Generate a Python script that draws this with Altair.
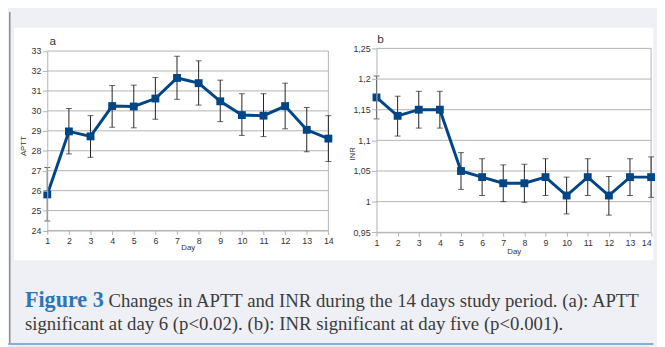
import altair as alt
import pandas as pd

# ---------------- data ----------------
days = [1, 2, 3, 4, 5, 6, 7, 8, 9, 10, 11, 12, 13, 14]

aptt = [25.81, 28.97, 28.72, 30.24, 30.22, 30.62, 31.65, 31.39, 30.48, 29.79, 29.76, 30.24, 29.05, 28.61]
aptt_hi = [27.16, 30.12, 29.76, 31.27, 31.29, 31.67, 32.74, 32.51, 31.54, 30.86, 30.86, 31.39, 30.17, 29.76]
aptt_lo = [24.48, 27.84, 27.67, 29.18, 29.15, 29.58, 30.58, 30.29, 29.46, 28.77, 28.71, 29.10, 27.95, 27.46]

inr = [1.17, 1.14, 1.15, 1.15, 1.05, 1.04, 1.03, 1.03, 1.04, 1.01, 1.04, 1.01, 1.04, 1.04]
inr_hi = [1.205, 1.172, 1.18, 1.18, 1.08, 1.07, 1.06, 1.061, 1.07, 1.04, 1.07, 1.041, 1.07, 1.073]
inr_lo = [1.135, 1.107, 1.12, 1.12, 1.02, 1.01, 1.00, 0.999, 1.01, 0.98, 1.01, 0.978, 1.01, 1.007]

aptt_ticks = [24, 25, 26, 27, 28, 29, 30, 31, 32, 33]
inr_ticks = [0.95, 1.0, 1.05, 1.1, 1.15, 1.2, 1.25]

caption_bold = "Figure 3"
caption_line1 = "Changes in APTT and INR during the 14 days study period. (a): APTT"
caption_line2 = "significant at day 6 (p<0.02). (b): INR significant at day five (p<0.001)."

# ---------------- styling / layout ----------------
BLUE = "#004586"
GRID = "#b3b3b3"
LABEL = "#333333"
BG = "#eff0f5"
FONT = "Liberation Sans"

H = 187.3
W_A = 286.3
W_B = 279.7
SPACING = 48.3

one = pd.DataFrame({"k": [0]})


def panel(values, lo, hi, ticks, ydom, yrange, ytitle, width, title, title_x, title_y,
          y_title_x, y_title_y, x_offset, x_title_y, label_expr=None,
          label_align=None, decorations=None):
    df = pd.DataFrame({"day": days, "val": values, "lo": lo, "hi": hi})
    if yrange is not None:
        yscale = alt.Scale(domain=ydom, nice=False, zero=False, range=yrange)
    else:
        yscale = alt.Scale(domain=ydom, nice=False, zero=False)
    yaxis_kw = dict(values=ticks, grid=False, domainColor=GRID, tickColor=GRID,
                    tickSize=5, labelPadding=1.5, labelFont=FONT, labelFontSize=9,
                    labelColor=LABEL, titleFont=FONT, titleFontSize=8,
                    titleFontWeight="normal", titleColor=LABEL, titleX=y_title_x,
                    titleY=y_title_y, titleBaseline="middle", titleAlign="center",
                    zindex=1)
    if label_expr:
        yaxis_kw["labelExpr"] = label_expr
    yaxis = alt.Axis(**yaxis_kw)
    xaxis_kw = dict(values=days, grid=False, domainColor=GRID, tickColor=GRID,
                    tickSize=4, labelPadding=2.5, labelFont=FONT, labelFontSize=9,
                    labelColor=LABEL, titleFont=FONT, titleFontSize=8,
                    titleFontWeight="normal", titleColor=LABEL, titleY=x_title_y,
                    offset=x_offset, zindex=1, labelFlush=False)
    if label_align is not None:
        xaxis_kw["labelAlign"] = label_align
    xaxis = alt.Axis(**xaxis_kw)
    xscale = alt.Scale(domain=[1, 14], nice=False, zero=False)

    X = lambda f: alt.X(f, type="quantitative", scale=xscale, axis=xaxis, title="Day")
    Y = lambda f: alt.Y(f, type="quantitative", scale=yscale, axis=yaxis, title=ytitle)

    base = alt.Chart(df)
    grid = alt.Chart(pd.DataFrame({"val": ticks})).mark_rule(
        color=GRID, strokeWidth=1).encode(
        y=Y("val"), x=alt.value(0), x2=alt.value(width))
    top_px = yrange[1] if yrange is not None else 0
    bot_px = yrange[0] if yrange is not None else H
    right = alt.Chart(one).mark_rule(color=GRID, strokeWidth=1).encode(
        x=alt.value(width), y=alt.value(top_px), y2=alt.value(bot_px))
    label = alt.Chart(one).mark_text(
        text=title, font=FONT, fontSize=12, color=LABEL, align="left",
        baseline="alphabetic").encode(x=alt.value(title_x), y=alt.value(title_y))
    line = base.mark_line(color=BLUE, strokeWidth=3).encode(x=X("day"), y=Y("val"))
    err = base.mark_rule(color="#222222", strokeWidth=1).encode(
        x=X("day"), y=Y("lo"), y2="hi")
    cap_lo = base.mark_tick(color="#222222", orient="horizontal", size=6,
                            thickness=1).encode(x=X("day"), y=Y("lo"))
    cap_hi = base.mark_tick(color="#222222", orient="horizontal", size=6,
                            thickness=1).encode(x=X("day"), y=Y("hi"))
    pts = base.mark_square(color=BLUE, size=64, opacity=1).encode(
        x=X("day"), y=Y("val"))

    layers = (decorations or []) + [grid, right, label, line, err, cap_lo, cap_hi, pts]
    return alt.layer(*layers).properties(width=width, height=H)


# decorations drawn in panel (a)'s coordinate system (origin = its plot corner)
bg = alt.Chart(one).mark_rect(color=BG).encode(
    x=alt.value(-39.7), x2=alt.value(617.3), y=alt.value(-37), y2=alt.value(302))
white = alt.Chart(one).mark_rect(color="#ffffff").encode(
    x=alt.value(-33.7), x2=alt.value(617.3), y=alt.value(-21), y2=alt.value(215.7))
left_border = alt.Chart(one).mark_rule(color="#8c8c8c", strokeWidth=1.5).encode(
    x=alt.value(-38.2), y=alt.value(-37), y2=alt.value(300))
bottom_border = alt.Chart(one).mark_rect(color="#7fb0dc").encode(
    x=alt.value(-39.7), x2=alt.value(617.3), y=alt.value(300), y2=alt.value(302))
cap_b = alt.Chart(one).mark_text(
    text=caption_bold, font="Liberation Serif", fontSize=22.5, fontWeight="bold",
    color="#2e75b6", align="left", baseline="alphabetic").encode(
    x=alt.value(-22.7), y=alt.value(263))
cap_1 = alt.Chart(one).mark_text(
    text=caption_line1, font="Liberation Serif", fontSize=19.1,
    color="#3c3c3c", align="left", baseline="alphabetic").encode(
    x=alt.value(62.3), y=alt.value(263))
cap_2 = alt.Chart(one).mark_text(
    text=caption_line2, font="Liberation Serif", fontSize=19.1,
    color="#3c3c3c", align="left", baseline="alphabetic").encode(
    x=alt.value(-22.7), y=alt.value(287))

chart_a = panel(aptt, aptt_lo, aptt_hi, aptt_ticks, [24, 33], [185.5, 2.7], "APTT",
                W_A, "a", 2.3, -3.3, -24.4, 99, -1.8, 13,
                decorations=[bg, white, left_border, bottom_border, cap_b, cap_1, cap_2])

chart_b = panel(inr, inr_lo, inr_hi, inr_ticks, [0.95, 1.25], None, "INR",
                W_B, "b", 0.7, -6, -24, 107, 0, 15.7,
                label_expr="replace(toString(datum.value), '.', ',')",
                label_align={"condition": {"test": "datum.value == 14", "value": "right"},
                             "value": "center"})

chart = alt.hconcat(chart_a, chart_b, spacing=SPACING, bounds="flush").properties(
    padding=0, background=BG
).configure_view(stroke=None)

chart.save("out.html", embed_options={"renderer": "svg", "actions": False})
